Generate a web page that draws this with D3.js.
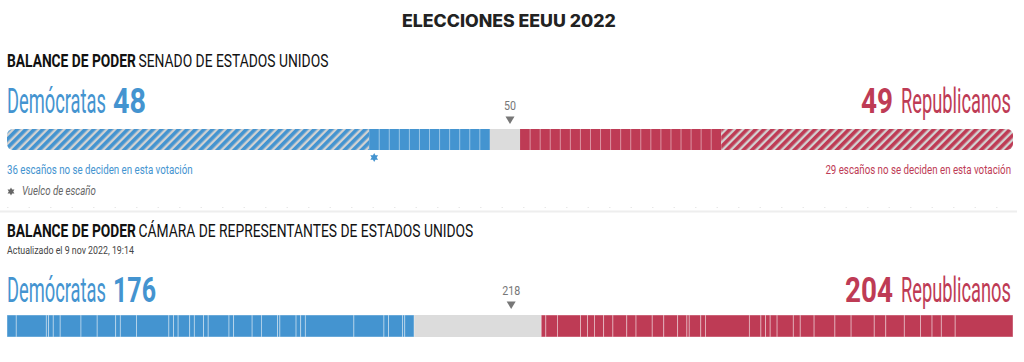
<!DOCTYPE html>
<html>
<head>
<meta charset="utf-8">
<script src="https://cdn.jsdelivr.net/npm/d3@7"></script>
<style>
body{margin:0;background:#fff;}
svg{display:block;}
</style>
</head>
<body>
<svg id="chart" width="1024" height="362"></svg>
<script>
// senate: seats per block, left to right
var senateBlocks = ["demNotUp","demWon","open","repWon","repNotUp"];
var senateSeats = [36, 12, 3, 20, 29];
var senateFlips = [36]; // seat index with a flip
var senateMajority = 50;
var senateTotals = {dem:48, rep:49};

// house: groups of won seats (read from separators)
var houseDemGroups = [4,13,1,2,3,9,7,8,2,7,14,2,2,5,2,4,2,9,2,8,4,7,1,7,2,2,21,13,2,6,1,4];
var houseRepGroups = [2,5,10,3,3,4,4,6,4,7,5,6,4,1,5,2,19,5,2,2,3,7,3,6,9,7,10,5,8,7,5,4,6,25];
var houseTotal = 435;
var houseMajority = 218;
var houseTotals = {dem:176, rep:204};

var blue = "#4494d0", red = "#be3b55", grey = "#dcdcdc";

var svg = d3.select("#chart");
var W = 1024, x0 = 7, x1 = 1013;
var cond = "Roboto, sans-serif";

// text helper, squeezed horizontally to the width seen in the reference
function txt(x, y, s, o){
	var g = svg.append("g");
	var t = g.append("text").attr("x", 0).attr("y", 0).text(s)
		.style("font-family", o.font || cond).style("font-size", o.size + "px")
		.style("font-weight", o.weight || 400).attr("fill", o.fill || "#111")
		.attr("text-anchor", o.anchor || "start");
	if (o.italic) t.style("font-style","italic");
	var sx = o.w ? o.w / t.node().getComputedTextLength() : 1;
	g.attr("transform", "translate(" + x + "," + y + ") scale(" + sx + ",1)");
	return t;
}

var defs = svg.append("defs");
function hatch(id, col){
	var p = defs.append("pattern").attr("id", id).attr("patternUnits","userSpaceOnUse")
		.attr("width", 6).attr("height", 6).attr("patternTransform","rotate(45)");
	p.append("rect").attr("width",6).attr("height",6).attr("fill","#d2d2d2");
	p.append("rect").attr("width",3.6).attr("height",6).attr("fill",col);
}
hatch("hDem", blue);
hatch("hRep", red);

function star(r){
	var pts = d3.range(12).map(function(i){
		return [i*Math.PI/6, i%2 ? r*0.55 : r];
	});
	return d3.lineRadial().curve(d3.curveLinearClosed)(pts);
}

txt(402, 27, "ELECCIONES EEUU 2022", {font:"Inter, sans-serif", size:17, weight:800, fill:"#222", w:214});

function heading(y, sub, subW){
	txt(x0, y, "BALANCE DE PODER", {size:18, weight:700, w:129});
	txt(138.5, y, sub, {size:18, w:subW});
}

function scores(y, d, dW, r, rX){
	txt(x0, y, "Demócratas", {size:35, fill:blue, w:99});
	txt(113, y, d, {size:35, weight:700, fill:blue, w:dW});
	txt(rX, y, r, {size:35, weight:700, fill:red, w:900 - rX - 7});
	txt(901, y, "Republicanos", {size:35, fill:red, w:110});
}

function marker(x, y, label){
	txt(x, y, label, {size:12, fill:"#777", anchor:"middle", w:String(label).length*6});
	svg.append("path").attr("transform","translate("+x+","+(y+6.5)+")")
		.attr("d","M-4.5,0L4.5,0L0,7.5Z").attr("fill","#777");
}

// ---- senate ----
heading(66.5, "SENADO DE ESTADOS UNIDOS", 190);
scores(113, senateTotals.dem, 33, senateTotals.rep, 861);

var xs = d3.scaleLinear().domain([0, d3.sum(senateSeats)]).range([x0, x1]);
marker(xs(senateMajority), 110, senateMajority);

var sTop = 129, sH = 21;
var starts = d3.cumsum([0].concat(senateSeats));
var fills = {demNotUp:"url(#hDem)", demWon:blue, open:grey, repWon:red, repNotUp:"url(#hRep)"};
var clip = defs.append("clipPath").attr("id","sClip");
clip.append("rect").attr("x", x0).attr("y", sTop).attr("width", x1-x0).attr("height", sH).attr("rx", 6);

var sg = svg.append("g").attr("clip-path","url(#sClip)");
sg.selectAll("rect.blk").data(senateBlocks).enter().append("rect").attr("class","blk")
	.attr("x", function(d,i){ return xs(starts[i]); })
	.attr("width", function(d,i){ return xs(starts[i+1]) - xs(starts[i]); })
	.attr("y", sTop).attr("height", sH)
	.attr("fill", function(d){ return fills[d]; });

// seat lines in won blocks
var seatLines = [];
[1,3].forEach(function(b){
	for (var s = starts[b]+1; s < starts[b+1]; s++) seatLines.push(s);
});
sg.selectAll("line.seat").data(seatLines).enter().append("line").attr("class","seat")
	.attr("x1", function(d){ return xs(d); }).attr("x2", function(d){ return xs(d); })
	.attr("y1", sTop).attr("y2", sTop+sH)
	.attr("stroke","rgba(255,255,255,0.45)").attr("stroke-width",1);

svg.selectAll("path.flip").data(senateFlips).enter().append("path").attr("class","flip")
	.attr("transform", function(d){ return "translate("+xs(d+0.5)+",157.5)"; })
	.attr("d", star(4.5)).attr("fill", blue);

txt(x0, 173.5, senateSeats[0] + " escaños no se deciden en esta votación", {size:12, fill:blue, w:186});
txt(x1-2, 173.5, senateSeats[4] + " escaños no se deciden en esta votación", {size:12, fill:red, anchor:"end", w:186});

svg.append("path").attr("transform","translate(11,191.5)").attr("d", star(4)).attr("fill","#666");
txt(22, 195, "Vuelco de escaño", {size:12, italic:true, fill:"#666", w:74});

svg.append("line").attr("x1", x0).attr("x2", x1).attr("y1", 207.5).attr("y2", 207.5)
	.attr("stroke","#e8e8e8").attr("stroke-dasharray","1.5,20");
svg.append("rect").attr("x", 0).attr("y", 210.5).attr("width", x1+4).attr("height", 2).attr("fill","#eeeeee");

// ---- house ----
heading(237, "CÁMARA DE REPRESENTANTES DE ESTADOS UNIDOS", 335);
txt(x0, 254, "Actualizado el 9 nov 2022, 19:14", {size:11, fill:"#444", w:127});
scores(302, houseTotals.dem, 43, houseTotals.rep, 845);

var xh = d3.scaleLinear().domain([0, houseTotal]).range([x0, x1]);
marker(xh(houseMajority), 295, houseMajority);

var hTop = 315, hH = 22;
svg.append("rect").attr("x", x0).attr("y", hTop).attr("width", x1-x0).attr("height", hH).attr("fill", grey);

var demCum = d3.cumsum([0].concat(houseDemGroups));
var repStart = houseTotal - d3.sum(houseRepGroups);
var repCum = d3.cumsum([repStart].concat(houseRepGroups));
var hg = [];
houseDemGroups.forEach(function(n,i){ hg.push({a:demCum[i], b:demCum[i+1], c:blue}); });
houseRepGroups.forEach(function(n,i){ hg.push({a:repCum[i], b:repCum[i+1], c:red}); });

svg.selectAll("rect.hg").data(hg).enter().append("rect").attr("class","hg")
	.attr("x", function(d){ return xh(d.a); })
	.attr("width", function(d){ return xh(d.b) - xh(d.a); })
	.attr("y", hTop).attr("height", hH).attr("fill", function(d){ return d.c; })
	.attr("stroke","rgba(255,255,255,0.5)").attr("stroke-width",0.8);
</script>
</body>
</html>
